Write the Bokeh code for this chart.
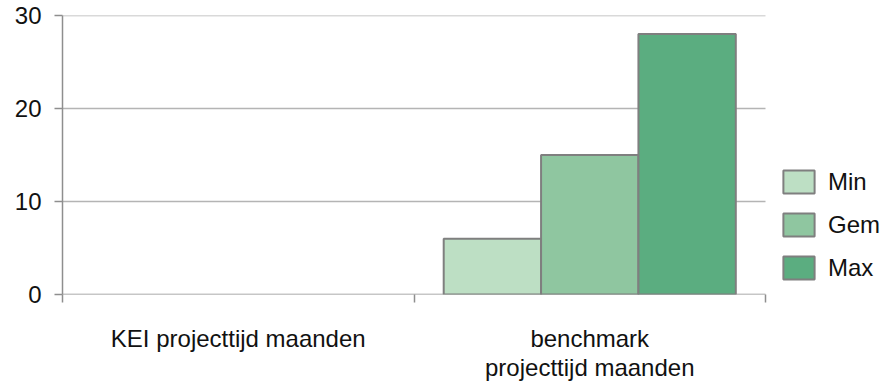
from bokeh.plotting import figure
from bokeh.models import ColumnDataSource, Range1d, FixedTicker, Legend, LegendItem
from bokeh.embed import file_html
from bokeh.resources import INLINE

categories = ["KEI projecttijd maanden", "benchmark\nprojecttijd maanden"]
series_names = ["Min", "Gem", "Max"]
min_vals = [None, 6]
gem_vals = [None, 15]
max_vals = [None, 28]
y_ticks = [0, 10, 20, 30]

colors = ["#BDDFC4", "#8FC6A0", "#5BAD80"]
FONT = "Liberation Sans"
AXIS_COL = "#8E8E8E"

W, H = 887, 383
LEFT, TOP, BOTTOM = 62, 15, 89
PLOT_W = 703  # width of the category area in px
n = len(categories)
x_end = n * (W - LEFT) / PLOT_W

p = figure(width=W, height=H, output_backend="svg", toolbar_location=None,
           x_range=Range1d(0, x_end), y_range=Range1d(0, max(y_ticks)),
           min_border_left=LEFT, min_border_right=0, min_border_top=TOP, min_border_bottom=BOTTOM)
p.outline_line_color = None
p.background_fill_color = "white"
p.xgrid.grid_line_color = None
p.ygrid.grid_line_color = None

# horizontal gridlines over the category area only
gx0 = [0] * (len(y_ticks) - 1)
gx1 = [n] * (len(y_ticks) - 1)
p.segment(x0=gx0, y0=y_ticks[1:], x1=gx1, y1=y_ticks[1:], line_color="#B4B4B4", line_width=1.5)
# baseline (x axis line)
p.segment(x0=[0], y0=[0], x1=[n], y1=[0], line_color=AXIS_COL, line_width=1.5)

bar_w = 0.277
offsets = [-bar_w, 0.0, bar_w]
renderers = []
for name, vals, col, off in zip(series_names, [min_vals, gem_vals, max_vals], colors, offsets):
    xs, tops = [], []
    for i, v in enumerate(vals):
        if v is not None:
            xs.append(i + 0.5 + off)
            tops.append(v)
    src = ColumnDataSource(dict(x=xs, top=tops))
    r = p.vbar(x="x", top="top", bottom=0, width=bar_w, source=src,
               fill_color=col, line_color="#7F7F7F", line_width=2)
    renderers.append((name, r))

# x axis
p.xaxis.ticker = FixedTicker(ticks=[i + 0.5 for i in range(n)],
                             minor_ticks=list(range(n + 1)))
p.xaxis.major_label_overrides = {i + 0.5: c for i, c in enumerate(categories)}
p.xaxis.major_tick_line_color = None
p.xaxis.major_tick_out = 0
p.xaxis.major_tick_in = 0
p.xaxis.minor_tick_line_color = AXIS_COL
p.xaxis.minor_tick_line_width = 1.5
p.xaxis.minor_tick_out = 8
p.xaxis.minor_tick_in = 0
p.xaxis.axis_line_color = None
p.xaxis.major_label_text_font = FONT
p.xaxis.major_label_text_font_size = "24px"
p.xaxis.major_label_text_line_height = 1.08
p.xaxis.major_label_text_color = "#111111"
p.xaxis.major_label_standoff = 22

# y axis
p.yaxis.ticker = FixedTicker(ticks=y_ticks)
p.yaxis.minor_tick_line_color = None
p.yaxis.major_tick_out = 8
p.yaxis.major_tick_in = 0
p.yaxis.major_tick_line_color = AXIS_COL
p.yaxis.major_tick_line_width = 1.5
p.yaxis.axis_line_color = AXIS_COL
p.yaxis.axis_line_width = 1.5
p.yaxis.major_label_text_font = FONT
p.yaxis.major_label_text_font_size = "24px"
p.yaxis.major_label_text_color = "#111111"
p.yaxis.major_label_standoff = 13

legend = Legend(items=[LegendItem(label=nm, renderers=[r]) for nm, r in renderers],
                location=(717, 12), orientation="vertical",
                glyph_width=39, glyph_height=29, label_height=29, spacing=14, label_standoff=10,
                padding=0, margin=0, border_line_color=None, background_fill_alpha=0,
                label_text_font=FONT, label_text_font_size="24px", label_text_color="#111111")
p.add_layout(legend, "center")

open("out.html", "w").write(file_html(p, INLINE))
